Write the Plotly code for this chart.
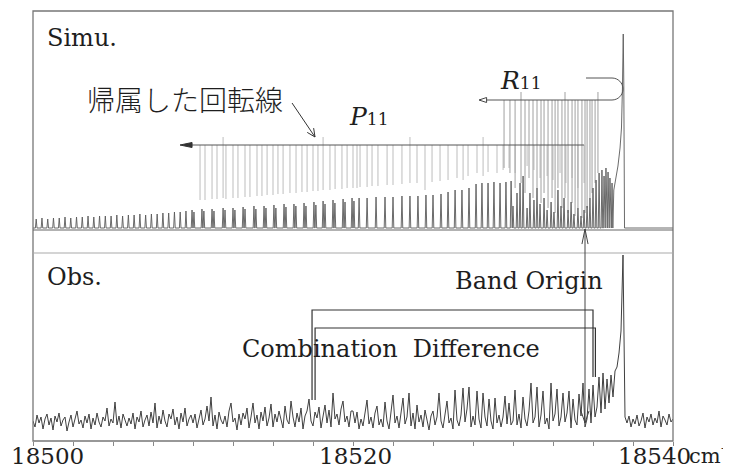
import plotly.graph_objects as go

# ---------------- data ----------------
X_RANGE = [18500, 18540]
tick_vals = [18500, 18502.5, 18505, 18507.5, 18510, 18512.5, 18515, 18517.5, 18520,
             18522.5, 18525, 18527.5, 18530, 18532.5, 18535, 18537.5, 18540]
label_vals = [18500, 18520, 18540]
label_text = ["18500", "18520", "18540"]
unit_text = "cm"
unit_exp = "-1"

# Simulated spectrum: line positions (cm-1) and intensities (arb.)
sim_pos = [
    18500.20, 18500.56, 18500.92, 18501.28, 18501.64, 18502.00, 18502.36, 18502.72, 18503.08,
    18503.44, 18503.80, 18504.16, 18504.52, 18504.88, 18505.24, 18505.60, 18505.96, 18506.32,
    18506.68, 18507.04, 18507.40, 18507.76, 18508.12, 18508.48, 18508.84, 18509.20, 18509.56,
    18509.94, 18510.06, 18510.56, 18510.68, 18511.19, 18511.31, 18511.88, 18512.00, 18512.50,
    18512.62, 18513.13, 18513.25, 18513.81, 18513.93, 18514.44, 18514.56, 18515.06, 18515.18,
    18515.69, 18515.81, 18516.31, 18516.43, 18516.94, 18517.06, 18517.56, 18517.68, 18518.13,
    18518.25, 18518.75, 18518.87, 18519.38, 18519.50, 18519.94, 18520.06,
    18520.38, 18520.88, 18521.44, 18522.00, 18522.50, 18523.06, 18523.56, 18524.06, 18524.56,
    18525.00, 18525.50, 18525.94, 18526.38, 18526.81, 18527.25, 18527.69, 18528.06, 18528.44,
    18528.81, 18529.19, 18529.56, 18529.88,
    18530.00, 18530.25, 18530.44, 18530.63, 18530.88, 18531.06, 18531.31, 18531.50, 18531.69,
    18531.94, 18532.13, 18532.38, 18532.56, 18532.81, 18533.00, 18533.19, 18533.44, 18533.63,
    18533.81, 18534.06, 18534.25, 18534.44, 18534.63, 18534.81, 18535.00, 18535.19, 18535.38,
    18535.56, 18535.69, 18535.81, 18535.94, 18536.06, 18536.19]
sim_int = [
    9, 10, 9, 10, 10, 11, 10, 11, 11, 12, 11, 12, 12, 12, 13, 12, 13, 13, 14, 13, 14, 14, 15, 15, 16, 16, 17,
    18, 16, 19, 17, 19, 17, 20, 18, 20, 18, 21, 19, 22, 19, 22, 20, 23, 20, 24, 21, 24, 22, 25, 22,
    26, 23, 27, 24, 28, 25, 29, 26, 30, 27,
    30, 30, 31, 31, 31, 32, 32, 32, 33, 33, 34, 36, 38, 38, 40, 44, 45, 45, 46, 45, 46, 47,
    22, 35, 45, 52, 20, 35, 28, 40, 24, 30, 18, 26, 16, 38, 22, 30, 18, 26, 14, 20, 12, 18,
    22, 30, 40, 48, 55, 58, 52, 60, 56, 50, 45]
# band head of the simulated spectrum
head_x = [18536.30, 18536.42, 18536.56, 18536.69, 18536.78, 18536.84, 18536.89, 18536.925, 18536.97, 18540.0]
head_y = [38, 48, 62, 80, 100, 140, 194, 145, 0, 0]

# assigned P11 lines (marker sticks): position, lower end, upper end
p_stick_x = [
    18510.44, 18510.75, 18511.19, 18511.50, 18511.88, 18512.06, 18512.50, 18512.81, 18513.25, 18513.56,
    18514.00, 18514.31, 18514.63, 18515.00, 18515.31, 18515.63, 18516.06, 18516.44, 18516.81, 18517.13,
    18517.50, 18517.81, 18518.13, 18518.56, 18518.88, 18519.31, 18519.63, 18520.00, 18520.25, 18520.44,
    18520.88, 18521.19, 18521.56, 18522.13, 18522.50, 18523.06, 18523.56, 18524.00, 18524.50, 18524.94,
    18525.44, 18525.94, 18526.50, 18526.88, 18527.19, 18527.75, 18528.13, 18528.44, 18529.00, 18529.38,
    18529.75, 18530.13, 18530.88, 18531.31, 18531.69, 18532.13, 18532.50, 18532.94, 18533.31, 18533.69,
    18534.06, 18534.44]
p_stick_lo = [
    28, 28, 29, 29, 30, 29, 30, 30, 31, 31, 32, 32, 33, 33, 34, 34, 35, 35, 36, 36,
    37, 37, 38, 38, 39, 39, 40, 40, 40, 41, 41, 42, 42, 43, 43, 44, 45, 45, 38, 46,
    47, 48, 50, 48, 52, 55, 52, 56, 55, 58, 60, 55, 62, 58, 50, 52, 48, 55, 45, 50, 40, 45]
p_stick_hi = [
    83, 83, 83, 83, 91, 83, 83, 83, 83, 83, 83, 83, 83, 83, 83, 83, 83, 83, 83, 83,
    83, 83, 91, 83, 83, 83, 83, 83, 83, 83, 83, 83, 83, 83, 83, 83, 91, 83, 83, 83,
    83, 83, 83, 83, 83, 83, 91, 83, 83, 83, 83, 83, 83, 83, 83, 83, 83, 83, 83, 83, 83, 83]

# assigned R11 lines
r_stick_x = [
    18529.44, 18529.81, 18530.13, 18530.50, 18530.75, 18531.00, 18531.25, 18531.50, 18531.75,
    18531.94, 18532.19, 18532.44, 18532.63, 18532.81, 18533.06, 18533.25, 18533.44, 18533.69,
    18533.88, 18534.06, 18534.31, 18534.50, 18534.63, 18534.81, 18534.94, 18535.13, 18535.31]
r_stick_lo = [60, 55, 40, 45, 35, 50, 30, 40, 25, 35, 20, 30, 15, 40, 20, 30, 15, 25, 12, 20,
              10, 15, 20, 30, 35, 45, 55]
r_stick_hi = [128, 128, 128, 136, 128, 128, 128, 128, 128, 128, 128, 128, 128, 128, 128, 136,
              128, 128, 128, 128, 128, 128, 128, 128, 128, 128, 136]

# Observed spectrum, sampled every 0.125 cm-1 from 18500 cm-1
obs_start = 18500.0
obs_step = 0.125
obs_int = [
    20, 14, 26, 18, 24, 12, 22, 27, 16, 23, 11, 25, 19, 28, 15, 21,
    24, 10, 19, 26, 14, 22, 30, 17, 21, 13, 25, 18, 27, 12, 23, 16,
    28, 19, 14, 24, 20, 33, 15, 22, 18, 39, 16, 25, 13, 27, 20, 15,
    23, 17, 28, 12, 24, 19, 30, 14, 21, 26, 15, 29, 18, 38, 13, 25,
    17, 31, 20, 14, 27, 22, 32, 16, 24, 12, 28, 19, 33, 15, 22, 26,
    18, 27, 13, 24, 31, 16, 22, 35, 20, 44, 15, 26, 12, 29, 21, 17,
    25, 14, 30, 38, 19, 23, 11, 27, 16, 28, 22, 33, 13, 24, 38, 18,
    26, 12, 29, 20, 34, 15, 23, 37, 14, 27, 19, 30, 22, 13, 35, 21,
    17, 40, 24, 14, 28, 19, 33, 12, 25, 30, 42, 20, 15, 29, 23, 34,
    13, 26, 36, 18, 31, 14, 48, 22, 27, 16, 32, 40, 19, 25, 14, 30,
    30, 18, 29, 12, 22, 15, 26, 41, 17, 24, 13, 28, 35, 16, 22, 14,
    39, 20, 12, 27, 46, 18, 25, 13, 26, 43, 17, 24, 48, 15, 28, 12,
    36, 19, 26, 14, 31, 22, 11, 25, 30, 16, 24, 48, 20, 13, 27, 40,
    18, 23, 12, 51, 21, 15, 26, 53, 19, 32, 54, 14, 25, 16, 50, 22,
    13, 48, 24, 15, 42, 20, 12, 43, 18, 26, 14, 24, 45, 17, 38, 16,
    20, 51, 16, 27, 13, 44, 22, 15, 30, 58, 18, 24, 54, 14, 26, 50,
    17, 23, 12, 58, 20, 27, 52, 15, 24, 48, 19, 28, 50, 13, 42, 21,
    16, 47, 25, 58, 14, 22, 52, 18, 56, 24, 34, 64, 28, 68, 32, 62,
    38, 66, 44, 70, 74, 88, 110, 186, 24, 18, 25, 14, 22, 17, 26, 15,
    20, 28, 13, 24, 19, 27, 16, 23, 18, 30, 14, 25, 21, 16, 27, 19,
    22]

# ---------------- build ----------------
SERIF = "DejaVu Serif"
CJK = "Noto Sans CJK JP"
TXT = "#1e1e1e"


def spike_path(pos, hgt, w=0.05):
    xs, ys = [X_RANGE[0]], [0]
    for p, h in sorted(zip(pos, hgt)):
        xs += [p - w, p, p + w]
        ys += [0, h, 0]
    return xs, ys


def sticks(xs, lo, hi):
    X, Y = [], []
    for x, a, b in zip(xs, lo, hi):
        X += [x, x, None]
        Y += [a, b, None]
    return X, Y


sx, sy = spike_path(sim_pos, sim_int)
sx += head_x
sy += head_y

fig = go.Figure()
px_, py_ = sticks(p_stick_x, p_stick_lo, p_stick_hi)
fig.add_trace(go.Scatter(x=px_, y=py_, mode="lines", line=dict(color="#bdbdbd", width=1),
                         yaxis="y", hoverinfo="skip"))
rx_, ry_ = sticks(r_stick_x, r_stick_lo, r_stick_hi)
fig.add_trace(go.Scatter(x=rx_, y=ry_, mode="lines", line=dict(color="#a0a0a0", width=1),
                         yaxis="y", hoverinfo="skip"))
fig.add_trace(go.Scatter(x=sx, y=sy, mode="lines", line=dict(color="#5a5a5a", width=0.9),
                         yaxis="y", hoverinfo="skip"))

obs_x = [obs_start + obs_step * i for i in range(len(obs_int))]
fig.add_trace(go.Scatter(x=obs_x, y=obs_int, mode="lines", line=dict(color="#404040", width=1),
                         xaxis="x", yaxis="y2", hoverinfo="skip"))

# ---------------- decorations ----------------
shapes = []
shapes.append(dict(type="rect", xref="paper", yref="paper", x0=0, x1=1, y0=0, y1=1,
                   line=dict(color="#777", width=1.3)))
shapes.append(dict(type="line", xref="paper", yref="paper", x0=0, x1=1, y0=0.4907, y1=0.4907,
                   line=dict(color="#666", width=1.2)))
shapes.append(dict(type="line", xref="paper", yref="paper", x0=0, x1=1, y0=0.4372, y1=0.4372,
                   line=dict(color="#aaa", width=1.2)))
# P11 arrow
shapes.append(dict(type="line", xref="x", yref="y", x0=18509.9, x1=18534.44, y0=83, y1=83,
                   line=dict(color="#555", width=1)))
shapes.append(dict(type="path", xref="x", yref="y",
                   path="M 18509.19,83 L 18509.94,85.5 L 18509.94,80.5 Z",
                   fillcolor="#333", line=dict(color="#333", width=1)))
# R11 arrow (hook)
shapes.append(dict(type="path", xref="x", yref="y",
                   path=("M 18534.5625,150 L 18536.1875,150 C 18536.5675,150 18536.875,145.08 18536.875,139 "
                         "C 18536.875,132.92 18536.5675,128 18536.1875,128 L 18528.31,128"),
                   line=dict(color="#555", width=1)))
shapes.append(dict(type="path", xref="x", yref="y",
                   path="M 18527.875,128 L 18528.35,130.5 L 18528.35,125.5 Z",
                   fillcolor="white", line=dict(color="#444", width=1)))
# arrow from Japanese label
shapes.append(dict(type="path", xref="x", yref="y",
                   path="M 18516.19,125 L 18517.625,91", line=dict(color="#333", width=1)))
shapes.append(dict(type="path", xref="x", yref="y",
                   path="M 18517.54,99.9 L 18517.625,91 L 18517.14,95.6", line=dict(color="#333", width=1)))
# Band origin double arrow
shapes.append(dict(type="path", xref="x", yref="paper",
                   path="M 18534.5,0.493 L 18534.5,0.0419", line=dict(color="#444", width=1)))
shapes.append(dict(type="path", xref="x", yref="paper",
                   path="M 18534.31,0.458 L 18534.5,0.493 L 18534.69,0.458", line=dict(color="#444", width=1)))
shapes.append(dict(type="path", xref="x", yref="paper",
                   path="M 18534.25,0.0698 L 18534.5,0.0419 L 18534.75,0.0698", line=dict(color="#444", width=1)))
# Combination difference brackets
shapes.append(dict(type="path", xref="x", yref="y2",
                   path="M 18517.44,41 L 18517.44,131 L 18535.0,131 L 18535.0,64",
                   line=dict(color="#333", width=1.2)))
shapes.append(dict(type="path", xref="x", yref="y2",
                   path="M 18517.63,41 L 18517.63,113 L 18535.15,113 L 18535.15,64",
                   line=dict(color="#333", width=1.2)))

ann = []


def txt(x, y, s, size=24, family=SERIF, weight=None, xref="paper", xshift=0, xanchor="left"):
    f = dict(family=family, size=size, color=TXT)
    if weight:
        f["weight"] = weight
    ann.append(dict(x=x, y=y, xref=xref, yref="paper", text=s, showarrow=False, xshift=xshift,
                    xanchor=xanchor, yanchor="middle", font=f))


txt(0.01875, 0.937, "Simu.")
txt(0.081, 0.795, "帰属した回転線", size=28, family=CJK, weight=300)
txt(0.4906, 0.7535, "<i>P</i><span style='font-size:17px'>11</span>", size=25)
txt(0.7266, 0.8395, "<i>R</i><span style='font-size:17px'>11</span>", size=25)
txt(0.01875, 0.3814, "Obs.")
txt(0.65625, 0.372, "Band Origin")
txt(0.3234, 0.214, "Combination\u00a0 Difference")

# x-axis tick labels and unit
shifts = [14, 2, -19]
for v, t, s in zip(label_vals, label_text, shifts):
    txt(v, -0.0349, t, size=23, xref="x", xshift=s, xanchor="center")
txt(label_vals[-1], -0.0349, unit_text, size=21, xref="x", xshift=14, xanchor="left")
txt(label_vals[-1], -0.0186, unit_exp, size=11, xref="x", xshift=46, xanchor="left")

# the page body has an 8px margin: shift the figure accordingly
fig.update_layout(
    width=723, height=462, autosize=False,
    margin=dict(l=25, r=58, t=3, b=29),
    paper_bgcolor="white", plot_bgcolor="white", showlegend=False,
    font=dict(family=SERIF),
    xaxis=dict(range=X_RANGE, anchor="y2", tickvals=tick_vals, ticks="outside", ticklen=4,
               tickcolor="#888", showticklabels=False, showgrid=False, zeroline=False, showline=False),
    yaxis=dict(domain=[0.4907, 1], range=[-2, 217], visible=False, fixedrange=True),
    yaxis2=dict(domain=[0, 0.4372], range=[0, 188], visible=False, fixedrange=True),
    shapes=shapes, annotations=ann,
)

fig.write_html("out.html")
